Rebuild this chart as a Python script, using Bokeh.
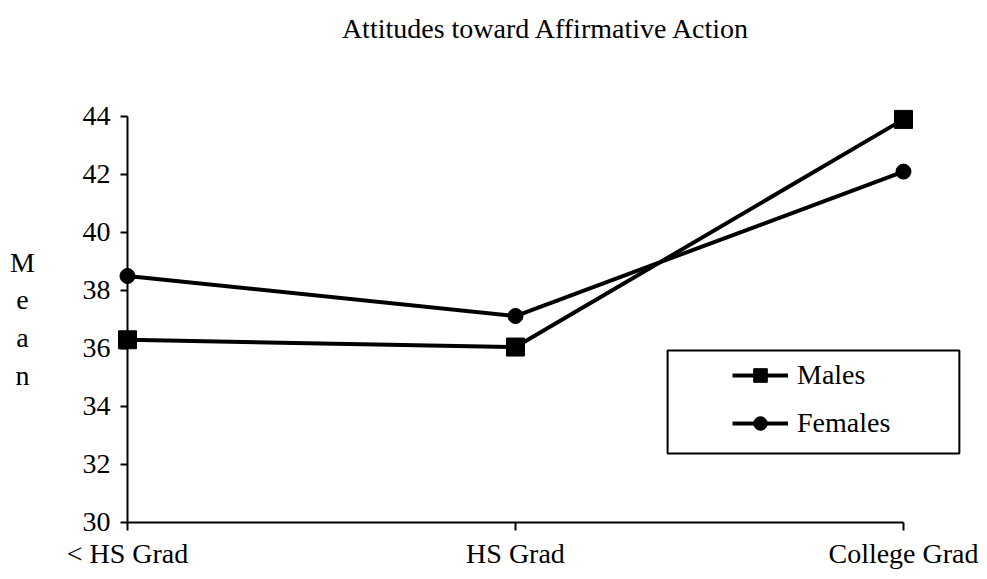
from bokeh.plotting import figure
from bokeh.models import Range1d, FixedTicker, BoxAnnotation, Label
from bokeh.embed import file_html
from bokeh.resources import INLINE

categories = ["< HS Grad", "HS Grad", "College Grad"]
males = [36.3, 36.05, 43.9]
females = [38.5, 37.12, 42.1]
y_ticks = [30, 32, 34, 36, 38, 40, 42, 44]
title_text = "Attitudes toward Affirmative Action"
ylabel_letters = ["M", "e", "a", "n"]

FONT = "Liberation Serif"
FS = "28px"

xs = list(range(len(categories)))

p = figure(width=979, height=571, output_backend="svg", toolbar_location=None,
           x_range=Range1d(-0.3273, 2.1959), y_range=Range1d(28.31, 48.0),
           min_border_left=0, min_border_right=0, min_border_top=0,
           min_border_bottom=0, title=None)
p.outline_line_color = None
p.xgrid.visible = False
p.ygrid.visible = False
p.background_fill_color = "white"
p.border_fill_color = "white"

p.line(xs, males, line_width=4, color="black", legend_label="Males")
p.scatter(xs, males, marker="square", size=18, color="black", legend_label="Males")
p.line(xs, females, line_width=4, color="black", legend_label="Females")
p.scatter(xs, females, marker="circle", size=15, color="black", legend_label="Females")

# axes
ya = p.yaxis[0]
ya.ticker = FixedTicker(ticks=y_ticks)
ya.fixed_location = xs[0]
ya.bounds = (y_ticks[0], y_ticks[-1])
ya.major_tick_in = 0
ya.major_tick_out = 7
ya.minor_tick_line_color = None
ya.axis_line_width = 2
ya.major_tick_line_width = 2
ya.major_label_standoff = 10
ya.major_label_text_font = FONT
ya.major_label_text_font_size = FS
ya.major_label_text_color = "black"

xa = p.xaxis[0]
xa.ticker = FixedTicker(ticks=xs)
xa.major_label_overrides = {i: c for i, c in enumerate(categories)}
xa.fixed_location = y_ticks[0]
xa.bounds = (xs[0], xs[-1])
xa.major_tick_in = 0
xa.major_tick_out = 8
xa.minor_tick_line_color = None
xa.axis_line_width = 2
xa.major_tick_line_width = 2
xa.major_label_standoff = 8
xa.major_label_text_font = FONT
xa.major_label_text_font_size = FS
xa.major_label_text_color = "black"

# title (drawn as a label above the data area)
p.add_layout(Label(x=1.08, y=47.03, text=title_text, text_align="center",
                   text_baseline="middle", text_font=FONT, text_font_size=FS,
                   text_color="black"))

# vertical "Mean" label
for i, ch in enumerate(ylabel_letters):
    p.add_layout(Label(x=-0.2706, y=38.97 - i * 1.3, text=ch, text_align="center",
                       text_baseline="middle", text_font=FONT, text_font_size=FS,
                       text_color="black"))

# legend
lg = p.legend[0]
lg.location = (724, 123)
lg.border_line_alpha = 0
lg.background_fill_alpha = 0
lg.padding = 8
lg.spacing = 14
lg.glyph_width = 56
lg.glyph_height = 34
lg.label_height = 34
lg.label_standoff = 9
lg.label_text_font = FONT
lg.label_text_font_size = FS
lg.label_text_color = "black"
lg.margin = 0

p.add_layout(BoxAnnotation(left=1.392, right=2.144, top=35.93, bottom=32.38,
                           fill_alpha=0, line_color="black", line_alpha=1,
                           line_width=2))

open("out.html", "w").write(file_html(p, INLINE))
